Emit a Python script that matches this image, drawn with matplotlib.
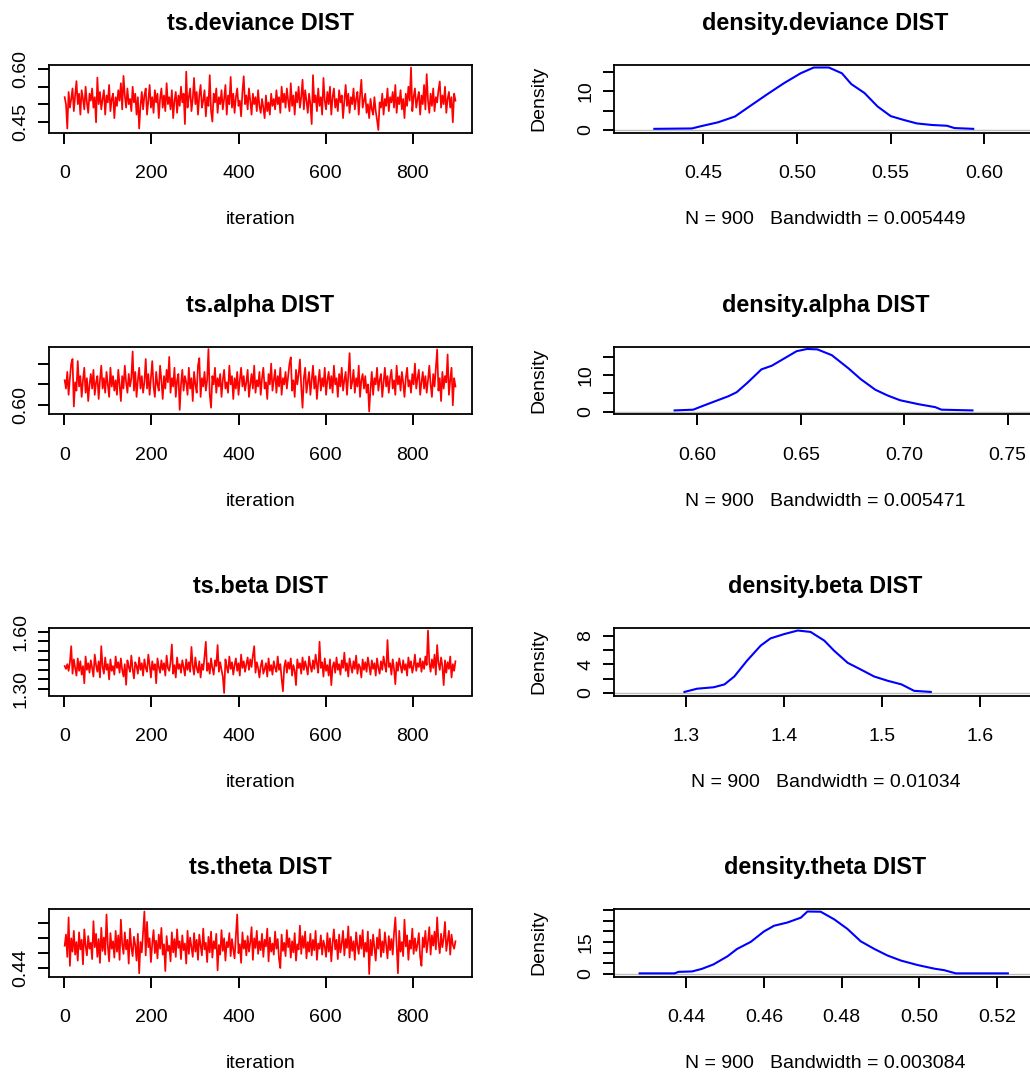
import numpy as np
import matplotlib.pyplot as plt

plt.rcParams['font.family'] = ['Liberation Sans', 'DejaVu Sans']

# MCMC traces in thousandths, read every 3rd iteration off the picture
dev_trace = [520, 500, 430, 535, 490, 515, 545, 480, 525, 566,
             500, 530, 470, 540, 515, 485, 550, 505, 475, 530,
             510, 545, 490, 520, 448, 576, 500, 535, 485, 515,
             540, 470, 525, 505, 555, 480, 515, 530, 460, 520,
             495, 540, 510, 560, 485, 581, 525, 490, 545, 500,
             515, 480, 550, 505, 530, 470, 520, 430, 495, 535,
             485, 525, 545, 470, 510, 555, 490, 520, 475, 540,
             505, 530, 460, 515, 545, 490, 525, 480, 560, 500,
             520, 485, 540, 460, 510, 535, 475, 525, 495, 550,
             505, 530, 443, 593, 490, 520, 545, 480, 515, 575,
             500, 535, 470, 525, 555, 490, 510, 540, 465, 520,
             495, 583, 480, 450, 530, 505, 545, 475, 520, 500,
             540, 485, 515, 555, 470, 525, 500, 578, 490, 530,
             475, 520, 545, 495, 510, 465, 535, 580, 500, 525,
             485, 545, 510, 470, 530, 500, 520, 480, 540, 495,
             475, 515, 490, 460, 525, 480, 505, 470, 530, 495,
             515, 485, 540, 500, 520, 475, 550, 505, 530, 490,
             545, 510, 480, 560, 495, 525, 470, 535, 505, 550,
             490, 520, 570, 485, 540, 510, 475, 530, 500, 443,
             583, 505, 525, 480, 545, 495, 520, 470, 575, 510,
             485, 535, 500, 550, 470, 520, 545, 490, 515, 480,
             540, 505, 525, 460, 510, 555, 495, 530, 475, 520,
             500, 545, 485, 515, 535, 470, 525, 570, 490, 510,
             530, 475, 500, 460, 515, 485, 470, 520, 480, 455,
             426, 505, 490, 530, 470, 515, 495, 545, 480, 520,
             505, 535, 490, 555, 475, 520, 500, 540, 485, 515,
             460, 530, 495, 550, 510, 605, 480, 520, 545, 490,
             515, 535, 470, 525, 500, 555, 485, 586, 510, 475,
             530, 495, 545, 480, 520, 505, 540, 565, 490, 525,
             500, 550, 475, 515, 535, 490, 520, 448, 530, 510]
alpha_trace = [660, 640, 680, 625, 665, 700, 711, 597, 655, 635,
               706, 645, 670, 620, 660, 690, 630, 665, 610, 650,
               675, 640, 685, 625, 655, 670, 615, 660, 695, 640,
               665, 630, 680, 650, 620, 690, 645, 670, 635, 660,
               625, 685, 650, 610, 670, 640, 695, 655, 630, 675,
               645, 665, 729, 635, 680, 620, 660, 690, 640, 670,
               630, 655, 711, 640, 675, 625, 665, 706, 645, 620,
               680, 650, 635, 695, 660, 615, 670, 640, 685, 655,
               716, 630, 665, 645, 690, 620, 660, 675, 589, 650,
               685, 635, 670, 655, 625, 690, 640, 665, 610, 680,
               650, 630, 695, 713, 620, 665, 645, 680, 635, 660,
               735, 625, 594, 670, 650, 690, 630, 665, 645, 675,
               620, 660, 685, 640, 655, 630, 695, 650, 670, 615,
               665, 640, 680, 625, 660, 690, 645, 670, 635, 655,
               685, 620, 650, 675, 640, 695, 630, 660, 645, 680,
               625, 665, 690, 640, 655, 615, 675, 650, 700, 635,
               660, 685, 630, 670, 645, 690, 625, 665, 650, 680,
               640, 670, 700, 715, 635, 660, 620, 685, 650, 675,
               710, 645, 594, 665, 690, 630, 655, 680, 625, 660,
               695, 640, 670, 615, 655, 685, 635, 665, 645, 690,
               625, 660, 680, 640, 670, 630, 695, 650, 665, 620,
               675, 645, 690, 635, 660, 680, 625, 670, 725, 640,
               655, 685, 630, 665, 645, 695, 620, 660, 675, 640,
               670, 630, 650, 585, 640, 680, 625, 665, 650, 690,
               635, 660, 675, 620, 655, 690, 645, 670, 630, 665,
               685, 640, 660, 625, 695, 650, 670, 635, 680, 655,
               620, 665, 690, 645, 660, 630, 675, 650, 700, 640,
               665, 685, 625, 655, 680, 640, 670, 630, 660, 695,
               650, 620, 675, 645, 690, 734, 635, 665, 610, 680,
               640, 670, 655, 722, 625, 660, 690, 600, 665, 645]
beta_trace = [1420, 1405, 1430, 1395, 1440, 1524, 1380, 1455, 1410, 1370,
              1460, 1395, 1445, 1375, 1420, 1330, 1470, 1400, 1435, 1385,
              1450, 1410, 1365, 1480, 1425, 1390, 1445, 1360, 1524, 1415,
              1380, 1465, 1400, 1430, 1350, 1455, 1395, 1420, 1375, 1470,
              1410, 1440, 1385, 1460, 1400, 1365, 1430, 1322, 1450, 1415,
              1390, 1475, 1405, 1355, 1440, 1420, 1380, 1465, 1400, 1435,
              1370, 1455, 1410, 1390, 1480, 1425, 1360, 1445, 1400, 1430,
              1330, 1460, 1415, 1385, 1450, 1400, 1435, 1370, 1475, 1410,
              1395, 1440, 1533, 1380, 1425, 1360, 1465, 1405, 1430, 1385,
              1450, 1415, 1370, 1455, 1400, 1440, 1390, 1520, 1420, 1375,
              1465, 1410, 1385, 1445, 1360, 1430, 1400, 1470, 1547, 1395,
              1435, 1380, 1460, 1410, 1375, 1450, 1420, 1530, 1390, 1440,
              1400, 1365, 1279, 1455, 1415, 1385, 1470, 1405, 1440, 1375,
              1425, 1460, 1395, 1435, 1370, 1480, 1410, 1445, 1390, 1430,
              1465, 1400, 1455, 1415, 1475, 1524, 1385, 1440, 1410, 1360,
              1420, 1450, 1380, 1405, 1435, 1365, 1460, 1395, 1425, 1375,
              1445, 1410, 1390, 1470, 1400, 1430, 1355, 1288, 1415, 1450,
              1385, 1440, 1405, 1460, 1370, 1425, 1395, 1320, 1455, 1410,
              1435, 1380, 1465, 1400, 1445, 1415, 1375, 1470, 1420, 1390,
              1450, 1405, 1480, 1430, 1385, 1547, 1410, 1440, 1365, 1460,
              1395, 1425, 1370, 1455, 1320, 1415, 1440, 1385, 1465, 1400,
              1430, 1375, 1450, 1410, 1490, 1395, 1435, 1365, 1460, 1420,
              1385, 1445, 1405, 1475, 1380, 1430, 1415, 1360, 1455, 1400,
              1440, 1390, 1465, 1420, 1375, 1450, 1405, 1435, 1370, 1460,
              1410, 1380, 1445, 1400, 1470, 1425, 1390, 1556, 1415, 1435,
              1375, 1455, 1405, 1325, 1440, 1395, 1460, 1420, 1385, 1450,
              1400, 1430, 1370, 1465, 1410, 1445, 1385, 1420, 1480, 1395,
              1435, 1415, 1460, 1390, 1445, 1405, 1470, 1425, 1606, 1440,
              1390, 1455, 1410, 1480, 1375, 1530, 1435, 1400, 1465, 1420,
              1320, 1450, 1385, 1440, 1405, 1470, 1360, 1430, 1395, 1445]
theta_trace = [470, 485, 455, 508, 443, 480, 462, 490, 458, 475,
               450, 488, 465, 478, 445, 492, 470, 457, 483, 466,
               474, 452, 503, 468, 486, 455, 479, 447, 494, 463,
               481, 458, 512, 470, 449, 487, 466, 476, 454, 490,
               462, 484, 451, 505, 472, 459, 488, 465, 478, 446,
               493, 468, 456, 482, 471, 450, 486, 433, 475, 461,
               489, 516, 457, 502, 468, 480, 448, 473, 491, 460,
               477, 453, 485, 466, 494, 458, 472, 436, 483, 463,
               470, 449, 488, 461, 479, 455, 492, 467, 476, 452,
               484, 464, 473, 446, 490, 459, 481, 468, 455, 487,
               462, 478, 451, 485, 470, 457, 493, 465, 474, 448,
               482, 461, 489, 454, 476, 466, 486, 437, 471, 458,
               491, 463, 480, 450, 475, 468, 487, 456, 479, 465,
               453, 484, 512, 460, 472, 447, 488, 466, 477, 457,
               483, 462, 474, 495, 451, 480, 467, 490, 459, 476,
               464, 486, 455, 478, 469, 493, 449, 481, 462, 473,
               458, 489, 466, 479, 452, 440, 485, 463, 474, 456,
               491, 468, 480, 454, 476, 461, 487, 450, 472, 465,
               497, 459, 483, 467, 489, 453, 475, 462, 486, 457,
               478, 464, 490, 451, 473, 466, 484, 458, 477, 469,
               455, 487, 462, 480, 449, 474, 492, 465, 478, 452,
               485, 461, 473, 490, 457, 479, 467, 496, 454, 482,
               463, 476, 451, 488, 470, 459, 484, 466, 491, 455,
               474, 462, 489, 432, 478, 457, 485, 468, 450, 481,
               466, 492, 455, 476, 461, 488, 470, 453, 483, 464,
               479, 458, 487, 508, 471, 433, 490, 462, 475, 456,
               505, 469, 484, 451, 477, 466, 493, 459, 480, 463,
               472, 487, 455, 443, 481, 468, 490, 461, 476, 495,
               458, 484, 470, 489, 465, 508, 475, 460, 486, 468,
               480, 502, 463, 477, 490, 458, 485, 471, 466, 476]
trace_step = 3

# kernel density curves
dev_dx = [0.424, 0.444, 0.449, 0.458, 0.467, 0.475, 0.484, 0.493, 0.502, 0.509, 0.517,
          0.524, 0.529, 0.536, 0.543, 0.550, 0.557, 0.564, 0.572, 0.580, 0.584, 0.594]
dev_dy = [0.3, 0.4, 1.0, 2.0, 3.5, 6.2, 9.2, 12.1, 14.7, 16.2, 16.2,
          14.7, 11.9, 9.6, 6.1, 3.6, 2.6, 1.7, 1.3, 1.1, 0.5, 0.3]
alpha_dx = [0.589, 0.598, 0.602, 0.608, 0.615, 0.619, 0.624, 0.631, 0.636, 0.642, 0.648, 0.653,
            0.658, 0.665, 0.673, 0.679, 0.686, 0.692, 0.698, 0.707, 0.715, 0.718, 0.733]
alpha_dy = [0.3, 0.5, 1.4, 2.7, 4.2, 5.3, 7.8, 11.6, 12.6, 14.6, 16.6, 17.2,
            17.1, 15.5, 11.9, 8.9, 6.0, 4.4, 3.1, 2.0, 1.2, 0.5, 0.3]
beta_dx = [1.298, 1.311, 1.328, 1.339, 1.349, 1.362, 1.376, 1.386, 1.400, 1.414,
           1.427, 1.441, 1.451, 1.465, 1.478, 1.492, 1.506, 1.520, 1.533, 1.550]
beta_dy = [0.15, 0.6, 0.8, 1.2, 2.3, 4.5, 6.6, 7.6, 8.2, 8.7,
           8.5, 7.3, 5.9, 4.2, 3.3, 2.3, 1.7, 1.2, 0.3, 0.15]
theta_dx = [0.428, 0.437, 0.438, 0.4415, 0.444, 0.447, 0.4506, 0.4531, 0.4566, 0.460, 0.4626,
            0.466, 0.4695, 0.4712, 0.4746, 0.4781, 0.4815, 0.4849, 0.4884, 0.4918, 0.4953,
            0.4996, 0.5039, 0.5064, 0.5094, 0.5228]
theta_dy = [0.3, 0.3, 1.0, 1.2, 2.4, 4.5, 8.3, 11.8, 15.1, 20.0, 22.7,
            24.2, 26.5, 29.4, 29.3, 25.7, 21.2, 15.4, 11.8, 8.7, 6.3,
            4.2, 2.5, 1.8, 0.3, 0.3]

params = ['deviance', 'alpha', 'beta', 'theta']
bandwidths = ['0.005449', '0.005471', '0.01034', '0.003084']
n_iter = 900

trace_yticks = [[0.45, 0.50, 0.55, 0.60], [0.60, 0.65, 0.70],
                [1.30, 1.35, 1.40, 1.45, 1.50, 1.55, 1.60], [0.44, 0.46, 0.48, 0.50]]
trace_ylabels = [['0.45', '', '', '0.60'], ['0.60', '', ''],
                 ['1.30', '', '', '', '', '', '1.60'], ['0.44', '', '', '']]
dens_xticks = [[0.45, 0.50, 0.55, 0.60], [0.60, 0.65, 0.70, 0.75],
               [1.3, 1.4, 1.5, 1.6], [0.44, 0.46, 0.48, 0.50, 0.52]]
dens_xlabels = [['0.45', '0.50', '0.55', '0.60'], ['0.60', '0.65', '0.70', '0.75'],
                ['1.3', '1.4', '1.5', '1.6'], ['0.44', '0.46', '0.48', '0.50', '0.52']]
dens_xlims = [(0.4025, 0.628), (0.5597, 0.7642), (1.2259, 1.6587), (0.4214, 0.5303)]
dens_yticks = [[0, 5, 10, 15], [0, 5, 10, 15], [0, 2, 4, 6, 8], [0, 5, 10, 15, 20, 25, 30]]
dens_ylabels = [['0', '', '10', ''], ['0', '', '10', ''], ['0', '', '4', '', '8'],
                ['0', '', '', '15', '', '', '']]

traces = [dev_trace, alpha_trace, beta_trace, theta_trace]
dens_x = [dev_dx, alpha_dx, beta_dx, theta_dx]
dens_y = [dev_dy, alpha_dy, beta_dy, theta_dy]

fig = plt.figure(figsize=(10.30, 10.73), dpi=100)
W, H = 1030, 1073
box_tops = [65, 346.5, 628, 909]
box_h = 67.5


def style(ax):
    for s in ax.spines.values():
        s.set_linewidth(1.3)
    ax.tick_params(direction='out', length=8, width=1.4, labelsize=14)
    ax.tick_params(axis='x', pad=15.5)
    ax.tick_params(axis='y', pad=6)
    for lab in ax.get_yticklabels():
        lab.set_rotation(90)
        lab.set_va('center')


for i, p in enumerate(params):
    bottom = 1 - (box_tops[i] + box_h) / H

    # trace plot
    ax = fig.add_axes([49 / W, bottom, 423 / W, box_h / H])
    vals = np.array(traces[i]) / 1000
    it = 1 + trace_step * np.arange(len(vals))
    ax.plot(it, vals, color='red', lw=1.25)
    ax.set_xlim(-35, 936)
    ax.margins(y=0.04)
    ax.set_xticks([0, 200, 400, 600, 800])
    ax.set_yticks(trace_yticks[i])
    ax.set_yticklabels(trace_ylabels[i])
    ax.set_title(f'ts.{p} DIST', fontsize=16.8, fontweight='bold', pad=25)
    ax.set_xlabel('iteration', fontsize=14, labelpad=21)
    style(ax)

    # density plot
    ax = fig.add_axes([614 / W, bottom, 423 / W, box_h / H])
    ax.axhline(0, color='#bebebe', lw=1, zorder=1)
    ax.plot(dens_x[i], dens_y[i], color='blue', lw=1.5, zorder=2)
    ax.set_xlim(dens_xlims[i])
    ax.margins(y=0.04)
    ax.set_xticks(dens_xticks[i])
    ax.set_xticklabels(dens_xlabels[i])
    ax.set_yticks(dens_yticks[i])
    ax.set_yticklabels(dens_ylabels[i])
    ax.set_title(f'density.{p} DIST', fontsize=16.8, fontweight='bold', pad=25)
    ax.set_xlabel(f'N = {n_iter}   Bandwidth = {bandwidths[i]}', fontsize=14, labelpad=21)
    ax.set_ylabel('Density', fontsize=14, labelpad=22)
    style(ax)

plt.savefig('out.png', dpi=100, facecolor='white')
